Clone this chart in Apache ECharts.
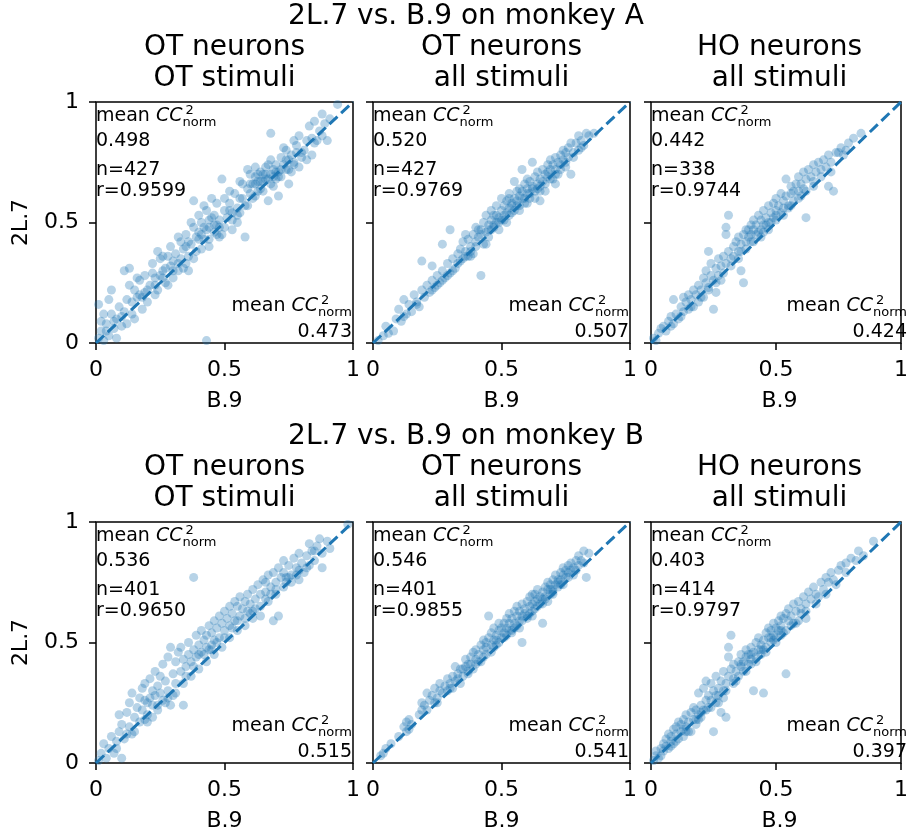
<!DOCTYPE html>
<html>
<head>
<meta charset="utf-8">
<script src="https://cdn.jsdelivr.net/npm/echarts@6/dist/echarts.min.js"></script>
<style>
  html, body { margin: 0; padding: 0; background: #fff; }
  #main { width: 911px; height: 834px; }
</style>
</head>
<body>
<div id="main"></div>
<script>
// row / panel titles
var rowTitles = ['2L.7 vs. B.9 on monkey A', '2L.7 vs. B.9 on monkey B'];
var panelTitles = [['OT neurons', 'OT stimuli'], ['OT neurons', 'all stimuli'], ['HO neurons', 'all stimuli']];
var xName = 'B.9';
var yName = '2L.7';
var tickValues = [0, 0.5, 1];

// per panel stats (A1 A2 A3 B1 B2 B3)
var meanY = ['0.498', '0.520', '0.442', '0.536', '0.546', '0.403'];
var meanX = ['0.473', '0.507', '0.424', '0.515', '0.541', '0.397'];
var nText = ['427', '427', '338', '401', '401', '414'];
var rText = ['0.9599', '0.9769', '0.9744', '0.9650', '0.9855', '0.9797'];

var diagonal = [[0, 0], [1, 1]];

// [B.9, 2L.7] per neuron
var otA_ot = [
  [0.01,0.02],[0.02,0.05],[0.03,0.01],[0.04,0.08],[0.05,0.03],[0.06,0.12],[0.07,0.06],[0.08,0.02],[0.01,0.16],[0.03,0.12],[0.05,0.18],[0.08,0.10],[0.09,0.15],[0.10,0.07],[0.06,0.22],[0.02,0.09],
  [0.11,0.30],[0.13,0.31],[0.12,0.18],[0.14,0.12],[0.15,0.22],[0.16,0.19],[0.17,0.26],[0.18,0.14],[0.19,0.21],[0.13,0.24],[0.15,0.10],[0.17,0.20],[0.12,0.08],[0.19,0.28],[0.20,0.17],[0.11,0.13],[0.16,0.27],
  [0.21,0.24],[0.22,0.33],[0.23,0.27],[0.24,0.22],[0.25,0.35],[0.26,0.30],[0.27,0.25],[0.28,0.36],[0.29,0.32],[0.22,0.29],[0.25,0.28],[0.28,0.24],[0.30,0.34],[0.24,0.38],[0.27,0.31],[0.23,0.20],[0.29,0.40],[0.26,0.36],[0.30,0.27],
  [0.31,0.37],[0.32,0.33],[0.33,0.42],[0.34,0.39],[0.35,0.45],[0.36,0.36],[0.37,0.41],[0.38,0.59],[0.38,0.48],[0.39,0.44],[0.40,0.53],[0.33,0.35],[0.35,0.40],[0.37,0.50],[0.39,0.38],[0.40,0.46],[0.36,0.30],[0.32,0.44],[0.34,0.31],
  [0.41,0.50],[0.42,0.43],[0.43,0.55],[0.44,0.48],[0.45,0.52],[0.46,0.46],[0.47,0.58],[0.48,0.51],[0.49,0.68],[0.50,0.55],[0.42,0.57],[0.44,0.40],[0.46,0.53],[0.48,0.44],[0.43,0.47],[0.45,0.60],[0.47,0.49],[0.49,0.45],[0.41,0.45],[0.50,0.60],
  [0.51,0.52],[0.52,0.58],[0.53,0.47],[0.54,0.62],[0.55,0.56],[0.56,0.67],[0.57,0.60],[0.58,0.44],[0.59,0.64],[0.60,0.70],[0.52,0.63],[0.55,0.50],[0.57,0.66],[0.58,0.57],[0.60,0.62],[0.53,0.54],[0.56,0.60],[0.59,0.72],
  [0.61,0.66],[0.62,0.69],[0.63,0.63],[0.64,0.71],[0.65,0.67],[0.66,0.73],[0.67,0.59],[0.68,0.70],[0.69,0.65],[0.70,0.74],[0.61,0.60],[0.62,0.73],[0.64,0.64],[0.65,0.70],[0.66,0.68],[0.68,0.76],[0.68,0.87],[0.69,0.72],[0.70,0.68],[0.63,0.67],[0.67,0.74],[0.71,0.61],
  [0.71,0.71],[0.72,0.77],[0.73,0.74],[0.74,0.80],[0.75,0.72],[0.76,0.78],[0.77,0.75],[0.78,0.82],[0.79,0.86],[0.80,0.77],[0.72,0.69],[0.74,0.76],[0.76,0.71],[0.78,0.79],[0.73,0.81],[0.77,0.84],[0.75,0.66],[0.79,0.73],
  [0.81,0.80],[0.82,0.84],[0.83,0.90],[0.84,0.78],[0.85,0.83],[0.86,0.84],[0.87,0.88],[0.88,0.95],[0.89,0.91],[0.90,0.84],[0.91,0.93],[0.94,0.99],[0.82,0.76],[0.85,0.92],[0.88,0.86],
  [0.43,0.01],
  [0.32,0.30],[0.35,0.33],[0.38,0.35],[0.41,0.39],[0.44,0.43],[0.47,0.45],[0.50,0.48],[0.53,0.51],[0.56,0.54],[0.59,0.57],[0.62,0.61],[0.65,0.63],[0.68,0.66],[0.71,0.69],[0.74,0.72],[0.77,0.74],
  [0.80,0.79],[0.63,0.70],[0.66,0.70],[0.64,0.67],[0.67,0.68],[0.69,0.69],[0.62,0.66],[0.60,0.66],[0.72,0.72],[0.70,0.71],[0.46,0.49],[0.44,0.51],[0.42,0.48],[0.40,0.43],[0.36,0.42],[0.30,0.30],
  [0.26,0.27],[0.23,0.24],[0.20,0.22],[0.18,0.19],[0.14,0.17],[0.10,0.11],[0.07,0.09],[0.04,0.05],[0.55,0.53],[0.52,0.55],[0.48,0.48],[0.75,0.76],[0.84,0.85]
];

var otA_all = [
  [0.02,0.01],[0.04,0.03],[0.05,0.07],[0.06,0.04],[0.08,0.05],[0.09,0.10],[0.10,0.14],[0.11,0.09],[0.12,0.18],[0.13,0.12],[0.14,0.16],[0.15,0.13],[0.16,0.20],[0.17,0.17],[0.18,0.15],[0.19,0.22],[0.19,0.34],[0.20,0.19],
  [0.21,0.24],[0.22,0.21],[0.23,0.32],[0.23,0.26],[0.24,0.23],[0.25,0.28],[0.26,0.25],[0.27,0.41],[0.27,0.30],[0.28,0.27],[0.29,0.33],[0.30,0.47],[0.30,0.29],[0.31,0.35],[0.32,0.31],[0.33,0.37],[0.33,0.33],
  [0.34,0.39],[0.35,0.35],[0.35,0.42],[0.36,0.38],[0.37,0.36],[0.37,0.43],[0.38,0.40],[0.39,0.45],[0.39,0.37],[0.40,0.42],[0.40,0.48],[0.41,0.44],[0.42,0.28],[0.42,0.47],[0.43,0.41],[0.43,0.50],[0.44,0.46],
  [0.44,0.53],[0.45,0.49],[0.45,0.44],[0.46,0.51],[0.46,0.55],[0.47,0.48],[0.47,0.53],[0.48,0.50],[0.48,0.57],[0.49,0.52],[0.49,0.47],[0.50,0.55],[0.50,0.60],[0.51,0.53],[0.51,0.57],[0.52,0.50],[0.52,0.59],
  [0.53,0.56],[0.53,0.62],[0.54,0.58],[0.54,0.54],[0.55,0.67],[0.55,0.60],[0.56,0.57],[0.56,0.63],[0.57,0.61],[0.57,0.55],[0.58,0.72],[0.58,0.63],[0.59,0.60],[0.59,0.66],[0.60,0.64],[0.60,0.58],[0.61,0.67],
  [0.61,0.62],[0.62,0.75],[0.62,0.65],[0.63,0.60],[0.63,0.69],[0.64,0.66],[0.64,0.71],[0.65,0.63],[0.65,0.68],[0.66,0.72],[0.66,0.67],[0.67,0.70],[0.67,0.63],[0.68,0.74],[0.68,0.69],[0.69,0.72],[0.69,0.76],
  [0.70,0.68],[0.70,0.74],[0.71,0.77],[0.71,0.72],[0.72,0.75],[0.72,0.70],[0.73,0.78],[0.73,0.74],[0.74,0.80],[0.74,0.76],[0.75,0.73],[0.75,0.79],[0.76,0.81],[0.76,0.77],[0.77,0.70],[0.77,0.83],[0.78,0.79],
  [0.79,0.83],[0.80,0.80],[0.80,0.86],[0.81,0.84],[0.82,0.82],[0.83,0.87],[0.84,0.86],[0.86,0.87],[0.65,0.59],[0.71,0.66],[0.36,0.45],[0.44,0.41],[0.25,0.24],[0.31,0.30],[0.53,0.60],[0.57,0.64],[0.60,0.68],
  [0.48,0.53],[0.41,0.47],[0.38,0.36],[0.34,0.34],[0.29,0.28],
  [0.45,0.47],[0.47,0.49],[0.49,0.50],[0.51,0.51],[0.53,0.53],[0.55,0.55],[0.57,0.57],[0.59,0.58],[0.61,0.60],[0.63,0.63],[0.65,0.65],[0.67,0.66],[0.69,0.68],[0.71,0.70],[0.73,0.72],[0.75,0.75],
  [0.42,0.45],[0.40,0.40],[0.38,0.38],[0.36,0.36],[0.52,0.54],[0.56,0.59],[0.60,0.62],[0.64,0.64],[0.68,0.71],[0.50,0.51],[0.46,0.47],[0.54,0.57],[0.58,0.60],[0.62,0.64],[0.27,0.26],[0.23,0.22],
  [0.17,0.16],[0.12,0.11],[0.78,0.77],[0.81,0.81]
];

var hoA_all = [
  [0.01,0.02],[0.02,0.01],[0.03,0.04],[0.04,0.06],[0.05,0.07],[0.06,0.05],[0.07,0.09],[0.08,0.11],[0.09,0.18],[0.09,0.08],[0.10,0.12],[0.11,0.10],[0.12,0.15],[0.13,0.13],[0.13,0.19],[0.14,0.17],
  [0.15,0.14],[0.15,0.20],[0.16,0.18],[0.17,0.22],[0.17,0.15],[0.18,0.20],[0.19,0.24],[0.19,0.17],[0.20,0.22],[0.21,0.27],[0.21,0.19],[0.22,0.25],[0.22,0.30],[0.23,0.38],[0.23,0.23],[0.24,0.28],
  [0.24,0.33],[0.25,0.14],[0.25,0.26],[0.26,0.21],[0.26,0.31],[0.27,0.35],[0.27,0.28],[0.28,0.32],[0.28,0.26],[0.29,0.36],[0.30,0.48],[0.30,0.45],[0.30,0.33],[0.31,0.53],[0.31,0.38],[0.32,0.35],
  [0.33,0.40],[0.33,0.36],[0.34,0.42],[0.35,0.38],[0.35,0.44],[0.36,0.30],[0.36,0.41],[0.37,0.25],[0.37,0.45],[0.38,0.42],[0.38,0.47],[0.39,0.44],[0.40,0.49],[0.40,0.45],[0.41,0.51],[0.41,0.47],
  [0.42,0.49],[0.43,0.53],[0.43,0.46],[0.44,0.51],[0.45,0.55],[0.45,0.49],[0.46,0.52],[0.47,0.57],[0.47,0.50],[0.48,0.54],[0.49,0.58],[0.49,0.52],[0.50,0.55],[0.50,0.60],[0.51,0.57],[0.52,0.62],
  [0.52,0.54],[0.53,0.59],[0.54,0.68],[0.54,0.61],[0.55,0.57],[0.56,0.65],[0.56,0.62],[0.57,0.59],[0.58,0.66],[0.59,0.63],[0.59,0.69],[0.60,0.66],[0.61,0.71],[0.61,0.64],[0.62,0.52],[0.62,0.68],
  [0.63,0.72],[0.64,0.69],[0.65,0.74],[0.65,0.67],[0.66,0.71],[0.67,0.75],[0.68,0.72],[0.69,0.76],[0.70,0.73],[0.71,0.65],[0.71,0.78],[0.72,0.75],[0.73,0.63],[0.74,0.79],[0.75,0.79],[0.76,0.81],
  [0.78,0.80],[0.79,0.83],[0.81,0.85],[0.84,0.87],[0.44,0.47],[0.48,0.50],[0.39,0.47],[0.53,0.56],[0.57,0.63],
  [0.20,0.19],[0.23,0.22],[0.26,0.25],[0.29,0.29],[0.32,0.32],[0.35,0.35],[0.38,0.39],[0.41,0.42],[0.44,0.44],[0.47,0.47],[0.50,0.51],[0.53,0.53],[0.56,0.57],[0.59,0.60],[0.62,0.63],[0.65,0.65],
  [0.68,0.69],[0.42,0.45],[0.46,0.49],[0.50,0.53],[0.36,0.38],[0.40,0.42],[0.45,0.46],[0.55,0.56],[0.60,0.61],[0.16,0.15],[0.12,0.11],[0.08,0.07],[0.72,0.71],[0.77,0.78]
];

var otB_ot = [
  [0.01,0.01],[0.02,0.04],[0.03,0.08],[0.04,0.02],[0.05,0.06],[0.06,0.11],[0.07,0.04],[0.08,0.09],[0.09,0.20],[0.09,0.13],[0.10,0.02],[0.10,0.16],[0.11,0.10],[0.12,0.21],[0.13,0.15],[0.13,0.25],
  [0.14,0.29],[0.14,0.12],[0.15,0.19],[0.16,0.23],[0.17,0.17],[0.17,0.27],[0.18,0.31],[0.18,0.22],[0.19,0.33],[0.19,0.26],[0.20,0.25],[0.20,0.20],[0.21,0.27],[0.21,0.35],[0.22,0.24],[0.22,0.30],
  [0.23,0.38],[0.23,0.28],[0.24,0.32],[0.24,0.22],[0.25,0.36],[0.25,0.29],[0.26,0.41],[0.26,0.26],[0.27,0.34],[0.28,0.30],[0.28,0.44],[0.29,0.48],[0.29,0.24],[0.30,0.37],[0.31,0.42],[0.31,0.33],
  [0.32,0.46],[0.33,0.48],[0.33,0.38],[0.34,0.24],[0.34,0.43],[0.35,0.40],[0.36,0.45],[0.36,0.50],[0.37,0.42],[0.38,0.77],[0.38,0.47],[0.39,0.53],[0.39,0.44],[0.40,0.49],[0.41,0.55],[0.41,0.46],
  [0.42,0.51],[0.43,0.53],[0.43,0.48],[0.44,0.57],[0.45,0.49],[0.45,0.54],[0.46,0.59],[0.46,0.51],[0.47,0.56],[0.48,0.52],[0.48,0.61],[0.49,0.58],[0.50,0.55],[0.50,0.63],[0.51,0.60],[0.52,0.57],
  [0.52,0.65],[0.53,0.62],[0.54,0.59],[0.54,0.67],[0.55,0.65],[0.56,0.61],[0.56,0.69],[0.57,0.64],[0.58,0.67],[0.58,0.60],[0.59,0.70],[0.60,0.66],[0.61,0.63],[0.61,0.72],[0.62,0.68],[0.63,0.74],
  [0.64,0.61],[0.64,0.70],[0.65,0.76],[0.66,0.75],[0.66,0.71],[0.67,0.78],[0.68,0.73],[0.69,0.59],[0.69,0.79],[0.70,0.75],[0.71,0.61],[0.71,0.81],[0.72,0.77],[0.73,0.84],[0.73,0.79],[0.74,0.75],
  [0.75,0.82],[0.76,0.78],[0.77,0.85],[0.78,0.81],[0.79,0.76],[0.79,0.87],[0.80,0.83],[0.81,0.79],[0.82,0.86],[0.83,0.91],[0.83,0.82],[0.84,0.88],[0.85,0.84],[0.86,0.90],[0.87,0.93],[0.88,0.81],
  [0.88,0.87],[0.90,0.92],[0.91,0.89],[0.98,0.99],[0.47,0.50],[0.53,0.56],[0.60,0.62],[0.68,0.70],[0.75,0.77],[0.40,0.45],[0.44,0.47],[0.35,0.36],[0.27,0.25],[0.19,0.18],
  [0.15,0.13],[0.20,0.17],[0.24,0.24],[0.28,0.27],[0.31,0.29],[0.34,0.33],[0.37,0.36],[0.40,0.39],[0.43,0.42],[0.46,0.45],[0.49,0.48],[0.52,0.52],[0.55,0.55],[0.58,0.57],[0.61,0.60],[0.64,0.65],
  [0.67,0.67],[0.70,0.70],[0.73,0.73],[0.76,0.75],[0.79,0.80],[0.82,0.81],[0.50,0.52],[0.55,0.59],[0.45,0.47],[0.42,0.45],[0.38,0.40],[0.62,0.64],[0.66,0.68],[0.70,0.72],[0.74,0.77],[0.78,0.78],
  [0.22,0.19],[0.30,0.28],[0.08,0.06],[0.12,0.12],[0.85,0.88],[0.59,0.63]
];

var otB_all = [
  [0.03,0.03],[0.04,0.04],[0.05,0.06],[0.07,0.08],[0.10,0.11],[0.12,0.15],[0.13,0.17],[0.13,0.13],[0.14,0.14],[0.14,0.18],[0.15,0.16],[0.18,0.20],[0.19,0.22],[0.19,0.25],[0.20,0.24],[0.21,0.29],
  [0.21,0.22],[0.22,0.26],[0.23,0.28],[0.24,0.25],[0.24,0.31],[0.25,0.27],[0.26,0.30],[0.26,0.33],[0.27,0.29],[0.28,0.32],[0.29,0.35],[0.29,0.30],[0.30,0.33],[0.31,0.36],[0.31,0.31],[0.32,0.40],
  [0.32,0.34],[0.33,0.37],[0.34,0.33],[0.34,0.39],[0.35,0.36],[0.36,0.40],[0.36,0.43],[0.37,0.38],[0.38,0.44],[0.38,0.41],[0.39,0.46],[0.39,0.39],[0.40,0.43],[0.40,0.47],[0.41,0.45],[0.42,0.49],
  [0.42,0.42],[0.43,0.47],[0.43,0.51],[0.44,0.48],[0.44,0.45],[0.45,0.61],[0.45,0.52],[0.46,0.49],[0.46,0.54],[0.47,0.51],[0.47,0.56],[0.48,0.53],[0.48,0.49],[0.49,0.55],[0.49,0.58],[0.50,0.52],
  [0.50,0.56],[0.51,0.58],[0.51,0.54],[0.52,0.60],[0.52,0.56],[0.53,0.58],[0.53,0.62],[0.54,0.55],[0.54,0.60],[0.55,0.63],[0.55,0.58],[0.56,0.61],[0.56,0.65],[0.57,0.59],[0.57,0.63],[0.58,0.50],
  [0.58,0.66],[0.59,0.62],[0.59,0.64],[0.60,0.67],[0.60,0.61],[0.61,0.65],[0.61,0.69],[0.62,0.66],[0.62,0.63],[0.63,0.70],[0.63,0.67],[0.64,0.68],[0.64,0.72],[0.65,0.69],[0.65,0.66],[0.66,0.58],
  [0.66,0.71],[0.67,0.73],[0.67,0.69],[0.68,0.72],[0.68,0.75],[0.69,0.70],[0.69,0.74],[0.70,0.76],[0.70,0.72],[0.71,0.74],[0.71,0.78],[0.72,0.76],[0.72,0.73],[0.73,0.79],[0.73,0.76],[0.74,0.78],
  [0.74,0.81],[0.75,0.77],[0.75,0.80],[0.76,0.82],[0.76,0.79],[0.77,0.83],[0.77,0.80],[0.78,0.81],[0.79,0.84],[0.80,0.86],[0.80,0.82],[0.81,0.84],[0.82,0.83],[0.83,0.77],[0.84,0.87],[0.82,0.88],
  [0.62,0.70],[0.58,0.61],[0.53,0.55],[0.48,0.51],[0.44,0.50],[0.41,0.42],[0.37,0.41],[0.35,0.39],[0.70,0.71],[0.66,0.68],
  [0.40,0.41],[0.43,0.44],[0.46,0.46],[0.49,0.50],[0.52,0.53],[0.55,0.56],[0.58,0.59],[0.61,0.62],[0.64,0.65],[0.67,0.68],[0.70,0.70],[0.73,0.74],[0.76,0.77],[0.79,0.80],[0.47,0.48],[0.51,0.52],
  [0.56,0.57],[0.60,0.60],[0.63,0.64],[0.66,0.66],[0.69,0.72],[0.72,0.75],[0.30,0.31],[0.25,0.25],[0.33,0.35],[0.37,0.37],[0.54,0.54],[0.57,0.56],[0.62,0.61],[0.68,0.67],[0.74,0.74],[0.78,0.78]
];

var hoB_all = [
  [0.01,0.01],[0.02,0.03],[0.02,0.05],[0.03,0.02],[0.04,0.06],[0.04,0.03],[0.05,0.08],[0.05,0.05],[0.06,0.07],[0.06,0.10],[0.07,0.06],[0.07,0.12],[0.08,0.09],[0.08,0.11],[0.09,0.08],[0.09,0.14],
  [0.10,0.12],[0.10,0.15],[0.11,0.10],[0.11,0.17],[0.12,0.13],[0.12,0.16],[0.13,0.11],[0.13,0.18],[0.14,0.15],[0.14,0.20],[0.15,0.17],[0.15,0.13],[0.16,0.13],[0.16,0.21],[0.17,0.18],[0.17,0.23],
  [0.18,0.16],[0.18,0.22],[0.19,0.29],[0.19,0.20],[0.20,0.24],[0.20,0.19],[0.21,0.31],[0.21,0.22],[0.22,0.26],[0.22,0.34],[0.23,0.23],[0.23,0.28],[0.24,0.33],[0.24,0.26],[0.25,0.13],[0.25,0.30],
  [0.26,0.28],[0.26,0.36],[0.27,0.31],[0.27,0.25],[0.28,0.21],[0.28,0.34],[0.29,0.30],[0.29,0.38],[0.30,0.19],[0.30,0.33],[0.31,0.48],[0.31,0.44],[0.31,0.36],[0.32,0.53],[0.32,0.39],[0.33,0.35],
  [0.33,0.41],[0.34,0.38],[0.35,0.42],[0.35,0.36],[0.36,0.40],[0.36,0.45],[0.37,0.42],[0.37,0.38],[0.38,0.44],[0.38,0.47],[0.39,0.41],[0.39,0.45],[0.40,0.48],[0.40,0.43],[0.41,0.30],[0.41,0.46],
  [0.42,0.50],[0.42,0.44],[0.43,0.47],[0.43,0.52],[0.44,0.49],[0.44,0.45],[0.45,0.29],[0.45,0.51],[0.46,0.48],[0.46,0.54],[0.47,0.52],[0.47,0.56],[0.48,0.50],[0.48,0.55],[0.49,0.58],[0.49,0.53],
  [0.50,0.56],[0.50,0.52],[0.51,0.59],[0.51,0.55],[0.52,0.61],[0.52,0.57],[0.53,0.54],[0.53,0.60],[0.54,0.37],[0.54,0.62],[0.55,0.59],[0.55,0.64],[0.56,0.61],[0.57,0.66],[0.57,0.58],[0.58,0.63],
  [0.59,0.59],[0.59,0.67],[0.60,0.64],[0.61,0.69],[0.62,0.60],[0.62,0.66],[0.63,0.71],[0.64,0.68],[0.65,0.73],[0.66,0.70],[0.67,0.69],[0.68,0.75],[0.69,0.72],[0.70,0.77],[0.71,0.75],[0.72,0.79],
  [0.73,0.76],[0.75,0.80],[0.76,0.82],[0.78,0.83],[0.80,0.85],[0.82,0.84],[0.83,0.88],[0.89,0.92],[0.44,0.47],[0.40,0.45],[0.36,0.41],[0.48,0.52],[0.52,0.55],[0.27,0.28],[0.20,0.21],[0.13,0.14],
  [0.10,0.09],[0.14,0.13],[0.18,0.18],[0.22,0.22],[0.26,0.25],[0.30,0.30],[0.34,0.34],[0.38,0.38],[0.42,0.42],[0.46,0.46],[0.50,0.50],[0.54,0.55],[0.58,0.58],[0.62,0.63],[0.66,0.66],[0.70,0.70],
  [0.74,0.74],[0.45,0.47],[0.40,0.41],[0.49,0.51],[0.52,0.53],[0.56,0.57],[0.33,0.33],[0.29,0.27],[0.24,0.23],[0.19,0.18],[0.08,0.07],[0.60,0.62],[0.78,0.79],[0.85,0.86]
];

var panelData = [otA_ot, otA_all, hoA_all, otB_ot, otB_all, hoB_all];

// layout in pixels
var rowTops = [102, 522];
var rowHeight = 241;
var colLefts = [96, 373, 651];
var colWidth = 257;
var blue = '#1f77b4';
var FONT = '"DejaVu Sans", sans-serif';

var measure = document.createElement('canvas').getContext('2d');
function textWidth(str, size, style) {
    measure.font = (style ? style + ' ' : '') + size + 'px ' + FONT;
    return measure.measureText(str).width;
}

function txt(x, y, str, size, align, extra) {
    var st = {
        text: str, fontSize: size, fontFamily: FONT, fill: '#000',
        align: align || 'left', verticalAlign: 'middle'
    };
    if (extra) for (var k in extra) st[k] = extra[k];
    return {type: 'text', x: x, y: y, style: st, silent: true, z: 10};
}

// "mean CC^2_norm" with the stacked sup / sub like mathtext
function ccLabel(x0, y, out) {
    var w1 = textWidth('mean ', 19), w2 = textWidth('CC', 19, 'italic');
    out.push(txt(x0, y, 'mean ', 19));
    out.push(txt(x0 + w1, y, 'CC', 19, 'left', {fontStyle: 'italic'}));
    out.push(txt(x0 + w1 + w2 + 3, y - 6, '2', 13));
    out.push(txt(x0 + w1 + w2, y + 6, 'norm', 13));
}
function ccWidth() {
    return textWidth('mean ', 19) + textWidth('CC', 19, 'italic') + textWidth('norm', 13);
}

function buildOption() {
    var grids = [], xAxes = [], yAxes = [], series = [], graphics = [];
    for (var r = 0; r < 2; r++) {
        var gTop = rowTops[r];
        graphics.push(txt(466, gTop - 85, rowTitles[r], 28, 'center'));
        var yl = txt(21, gTop + rowHeight / 2, yName, 22, 'center');
        yl.rotation = Math.PI / 2;
        graphics.push(yl);

        for (var c = 0; c < 3; c++) {
            var p = r * 3 + c;
            var gLeft = colLefts[c];
            grids.push({
                left: gLeft, top: gTop, width: colWidth, height: rowHeight,
                show: true, borderColor: '#000', borderWidth: 1.5, backgroundColor: 'transparent'
            });
            xAxes.push({
                type: 'value', gridIndex: p, min: 0, max: 1, interval: 0.5,
                axisLine: {show: false},
                axisTick: {show: true, length: 7, lineStyle: {color: '#000', width: 1.5}},
                axisLabel: {show: true, margin: 16, fontSize: 22, fontFamily: FONT, color: '#000'},
                splitLine: {show: false}
            });
            yAxes.push({
                type: 'value', gridIndex: p, min: 0, max: 1, interval: 0.5,
                axisLine: {show: false},
                axisTick: {show: true, length: 7, lineStyle: {color: '#000', width: 1.5}},
                axisLabel: {show: c === 0, margin: 17, fontSize: 22, fontFamily: FONT, color: '#000'},
                splitLine: {show: false}
            });
            series.push({
                type: 'scatter', xAxisIndex: p, yAxisIndex: p, data: panelData[p],
                symbolSize: 9, clip: true,
                itemStyle: {color: blue, opacity: 0.32},
                z: 2
            });
            series.push({
                type: 'line', xAxisIndex: p, yAxisIndex: p, data: diagonal,
                symbol: 'none', silent: true,
                lineStyle: {color: blue, width: 3, type: [11, 5]},
                z: 3
            });

            var cx = gLeft + colWidth / 2;
            graphics.push(txt(cx, gTop - 54, panelTitles[c][0], 28, 'center'));
            graphics.push(txt(cx, gTop - 23, panelTitles[c][1], 28, 'center'));
            graphics.push(txt(cx, gTop + rowHeight + 58, xName, 22, 'center'));

            // top-left stats
            ccLabel(gLeft, gTop + 14.5, graphics);
            graphics.push(txt(gLeft, gTop + 39.5, meanY[p], 19));
            graphics.push(txt(gLeft, gTop + 68.5, 'n=' + nText[p], 19));
            graphics.push(txt(gLeft, gTop + 89.5, 'r=' + rText[p], 19));

            // bottom-right stats
            var gRight = gLeft + colWidth - 1;
            var gBottom = gTop + rowHeight;
            ccLabel(gRight - ccWidth(), gBottom - 36.5, graphics);
            graphics.push(txt(gRight, gBottom - 10.5, meanX[p], 19, 'right'));
        }
    }
    return {
        backgroundColor: '#fff',
        animation: false,
        grid: grids,
        xAxis: xAxes,
        yAxis: yAxes,
        series: series,
        graphic: {elements: graphics}
    };
}

var myChart = echarts.init(document.getElementById('main'));
myChart.setOption(buildOption());
</script>
</body>
</html>
